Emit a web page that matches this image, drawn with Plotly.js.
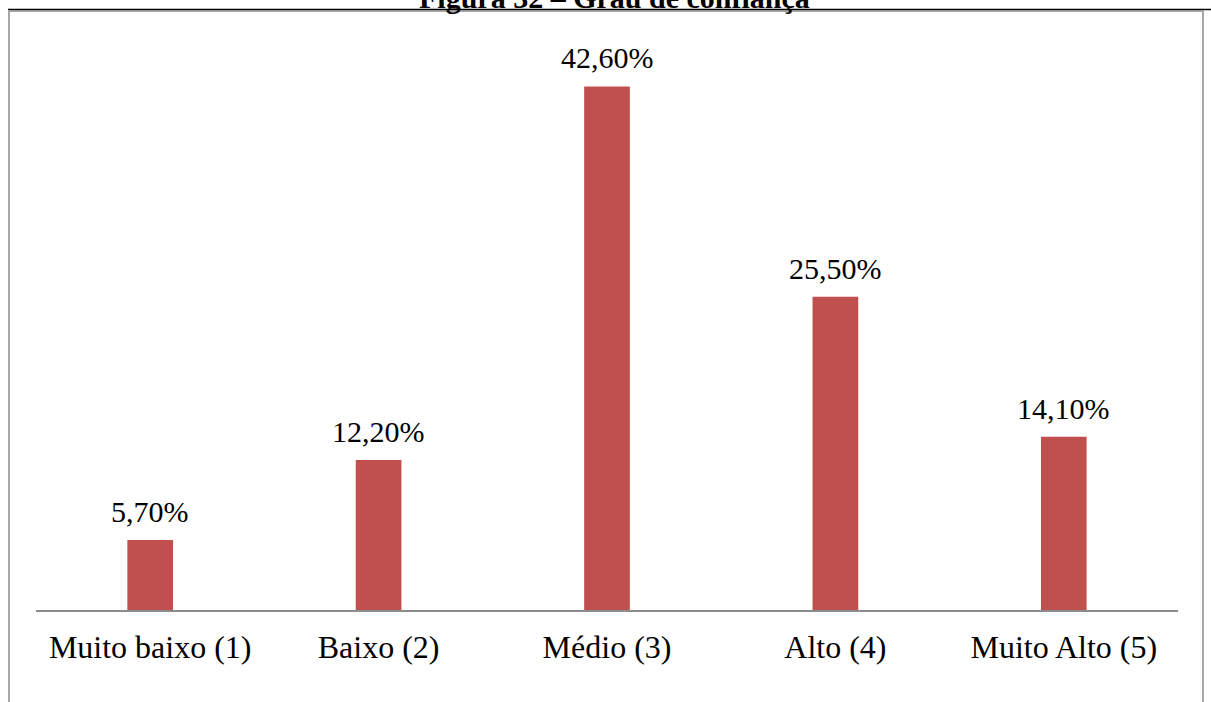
<!DOCTYPE html>
<html>
<head>
<meta charset="utf-8">
<script src="https://cdn.plot.ly/plotly-3.0.1.min.js"></script>
<style>
html,body{margin:0;padding:0;background:#fff;}
#chart{width:1211px;height:702px;}
</style>
</head>
<body>
<div id="chart"></div>
<script>
const categories = ["Muito baixo (1)", "Baixo (2)", "Médio (3)", "Alto (4)", "Muito Alto (5)"];
const values = [5.7, 12.2, 42.6, 25.5, 14.1];
const valueLabels = ["5,70%", "12,20%", "42,60%", "25,50%", "14,10%"];
const titleText = "Figura 32 – Grau de confiança";

const FONT = "Liberation Serif, Times New Roman, serif";

const trace = {
  type: "bar",
  x: categories,
  y: values,
  marker: {color: "#C0504D"},
  hoverinfo: "none"
};

const annotations = categories.map((c, i) => ({
  x: c, y: values[i], xref: "x", yref: "y",
  text: valueLabels[i], showarrow: false,
  yanchor: "bottom", yshift: 10,
  font: {family: FONT, size: 30, color: "#000"}
}));

annotations.push({
  xref: "paper", yref: "paper", x: 0.5, y: 1 + (57 - 7) / 553,
  xanchor: "center", yanchor: "bottom", yshift: -9, xshift: 7,
  text: titleText, showarrow: false,
  font: {family: FONT, size: 30, color: "#000", weight: "bold"}
});

const W = 1142, H = 553;
const shapes = [
  {type: "line", xref: "paper", yref: "paper",
   x0: (8 - 36) / W, x1: (1211 - 36) / W, y0: 1 + (57 - 9.5) / H, y1: 1 + (57 - 9.5) / H,
   line: {color: "#000", width: 1.5}},
  {type: "line", xref: "paper", yref: "paper",
   x0: (9 - 36) / W, x1: (1203 - 36) / W, y0: 1 + (57 - 11) / H, y1: 1 + (57 - 11) / H,
   line: {color: "#8a8a8a", width: 1.5}},
  {type: "line", xref: "paper", yref: "paper",
   x0: (9 - 36) / W, x1: (9 - 36) / W, y0: 1 + (57 - 11) / H, y1: -(702 - 610 + 5) / H,
   line: {color: "#8a8a8a", width: 1.5}},
  {type: "line", xref: "paper", yref: "paper",
   x0: (1203 - 36) / W, x1: (1203 - 36) / W, y0: 1 + (57 - 11) / H, y1: -(702 - 610 + 5) / H,
   line: {color: "#8a8a8a", width: 1.5}}
];

const layout = {
  width: 1211, height: 702,
  margin: {l: 36, r: 33, t: 57, b: 92},
  paper_bgcolor: "#fff", plot_bgcolor: "#fff",
  bargap: 0.8,
  showlegend: false,
  font: {family: FONT, color: "#000"},
  xaxis: {
    type: "category",
    showline: true, linecolor: "#8c8c8c", linewidth: 1.5,
    showgrid: false, zeroline: false,
    ticks: "outside", ticklen: 8, tickcolor: "rgba(0,0,0,0)",
    tickfont: {family: FONT, size: 32, color: "#000"}
  },
  yaxis: {
    range: [0, 45], visible: false, showgrid: false, zeroline: false, fixedrange: true
  },
  annotations: annotations,
  shapes: shapes
};

Plotly.newPlot("chart", [trace], layout, {displayModeBar: false, staticPlot: true});
</script>
</body>
</html>
